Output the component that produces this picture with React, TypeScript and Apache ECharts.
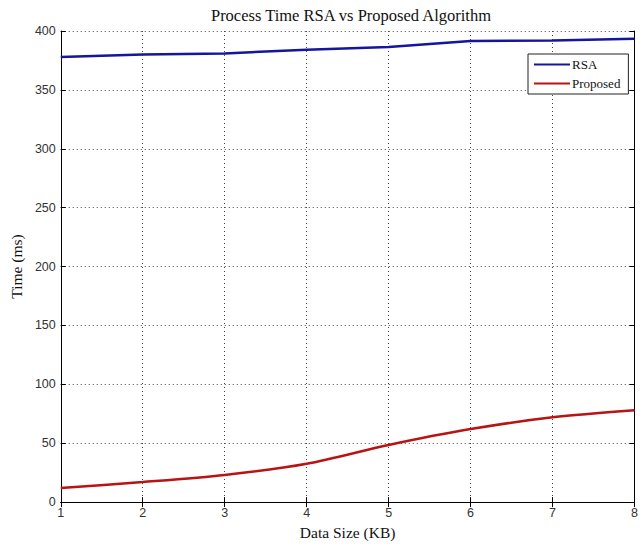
import React, { useEffect, useRef } from "react";
import * as echarts from "echarts";

const dataSizes = [1, 2, 3, 4, 5, 6, 7, 8];
const rsaTimes = [378, 380, 381, 384, 386.5, 391.5, 392, 393.5];
const proposedTimes = [12, 17, 23, 32.5, 48.5, 62, 72, 78];
const titleText = "Process Time RSA vs Proposed Algorithm";
const xName = "Data Size (KB)";
const yName = "Time (ms)";

const serif = "'Liberation Serif', 'Times New Roman', serif";
const sans = "'Liberation Sans', Arial, sans-serif";

export default function App() {
  const ref = useRef<HTMLDivElement>(null);
  useEffect(() => {
    if (!ref.current) return;
    const chart = echarts.init(ref.current, undefined, { renderer: "svg" });
    const grid = "#444";
    chart.setOption({
      animation: false,
      backgroundColor: "#fff",
      title: {
        text: titleText,
        left: 346,
        textAlign: "center",
        top: 2,
        textStyle: { fontFamily: serif, fontSize: 16.5, fontWeight: "normal", color: "#111" },
      },
      grid: { left: 54, right: 4, top: 31, bottom: 42, containLabel: false },
      legend: {
        orient: "vertical",
        left: 528,
        top: 54,
        icon: "rect",
        itemWidth: 36,
        itemHeight: 2,
        itemGap: 6,
        padding: [4, 8, 4, 6],
        borderColor: "#222",
        borderWidth: 1,
        backgroundColor: "#fff",
        textStyle: { fontFamily: serif, fontSize: 13, color: "#111", padding: [0, 0, 0, -3] },
        data: ["RSA", "Proposed"],
      },
      xAxis: [
        {
          type: "value",
          min: 1,
          max: 8,
          interval: 1,
          name: xName,
          nameLocation: "middle",
          nameGap: 21,
          nameTextStyle: { fontFamily: serif, fontSize: 15.5, color: "#111" },
          axisLine: { show: true, lineStyle: { color: "#000", width: 1 } },
          axisTick: { show: true, inside: true, length: 5, lineStyle: { color: "#000" } },
          axisLabel: { fontFamily: sans, fontSize: 12.5, color: "#333", margin: 4 },
          splitLine: { show: true, lineStyle: { color: grid, type: [1, 3], width: 1 } },
        },
        {
          type: "value",
          position: "top",
          min: 1,
          max: 8,
          interval: 1,
          axisLine: { show: true, lineStyle: { color: "#000", width: 1 } },
          axisTick: { show: true, inside: true, length: 5, lineStyle: { color: "#000" } },
          axisLabel: { show: false },
          splitLine: { show: false },
        },
      ],
      yAxis: [
        {
          type: "value",
          min: 0,
          max: 400,
          interval: 50,
          name: yName,
          nameLocation: "middle",
          nameGap: 33,
          nameTextStyle: { fontFamily: serif, fontSize: 15.5, color: "#111" },
          axisLine: { show: true, lineStyle: { color: "#000", width: 1 } },
          axisTick: { show: true, inside: true, length: 5, lineStyle: { color: "#000" } },
          axisLabel: { fontFamily: sans, fontSize: 12.5, color: "#333", margin: 5 },
          splitLine: { show: true, lineStyle: { color: grid, type: [1, 3], width: 1 } },
        },
        {
          type: "value",
          position: "right",
          min: 0,
          max: 400,
          interval: 50,
          axisLine: { show: true, lineStyle: { color: "#000", width: 1 } },
          axisTick: { show: true, inside: true, length: 5, lineStyle: { color: "#000" } },
          axisLabel: { show: false },
          splitLine: { show: false },
        },
      ],
      series: [
        {
          name: "RSA",
          type: "line",
          data: dataSizes.map((x, i) => [x, rsaTimes[i]]),
          showSymbol: false,
          color: "#15159e",
          lineStyle: { width: 2.5, color: "#15159e" },
        },
        {
          name: "Proposed",
          type: "line",
          data: dataSizes.map((x, i) => [x, proposedTimes[i]]),
          showSymbol: false,
          smooth: 0.3,
          color: "#b81414",
          lineStyle: { width: 2.5, color: "#b81414" },
        },
      ],
    });
    return () => chart.dispose();
  }, []);
  return (
    <div
      ref={ref}
      style={{ position: "fixed", left: 0, top: 0, width: 641, height: 545 }}
    />
  );
}
